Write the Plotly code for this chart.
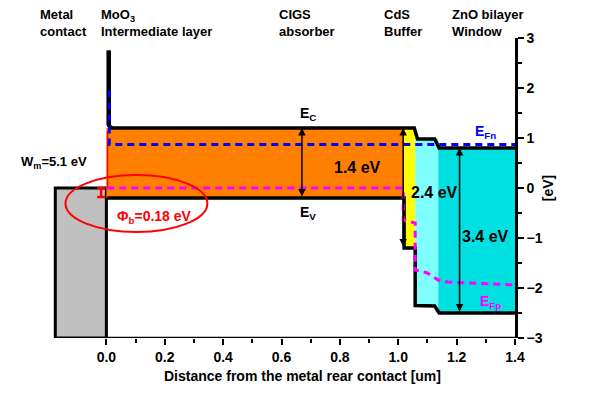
import plotly.graph_objects as go

# ---------------- data ----------------
# semiconductor layers (CIGS, CdS, i-ZnO, ZnO:Al)
layer_x0 = [0.0, 1.02, 1.058, 1.137]
layer_x1 = [1.02, 1.058, 1.137, 1.4]
layer_ec = [1.2, 1.2, 0.98, 0.8]
layer_ev = [-0.2, -1.2, -2.35, -2.5]
layer_colors = ["#FF8000", "#FFFF00", "#80FFFF", "#00E0E0"]

# metal contact
metal_x = [-0.175, 0.0]
metal_ef = 0.0
metal_bottom = -3.0

# conduction band edge (incl. MoO3 spike)
cb_x = [0.008, 0.008, 0.02, 1.055, 1.066, 1.125, 1.14, 1.4]
cb_y = [2.75, 1.25, 1.2, 1.2, 0.98, 0.98, 0.8, 0.8]
# valence band edge
vb_x = [0.003, 1.02, 1.02, 1.058, 1.058, 1.125, 1.14, 1.4]
vb_y = [-0.2, -0.2, -1.2, -1.2, -2.35, -2.36, -2.5, -2.5]

# quasi Fermi levels
efn_x = [0.01, 0.01, 0.03, 1.4]
efn_y = [1.95, 0.87, 0.87, 0.87]
efp_x = [0.003, 1.017, 1.017, 1.058, 1.058, 1.10, 1.137, 1.17, 1.4]
efp_y = [0.0, 0.0, -0.64, -0.7, -1.64, -1.7, -1.84, -1.88, -1.94]

# band gap arrows: x, bottom, top
gap_x = [0.67, 1.017, 1.21]
gap_lo = [-0.2, -1.2, -2.5]
gap_hi = [1.2, 1.2, 0.8]
gap_labels = ["1.4 eV", "2.4 eV", "3.4 eV"]
gap_label_x = [0.86, 1.125, 1.30]
gap_label_y = [0.42, -0.08, -0.96]

barrier = 0.18
x_ticks = [0.0, 0.2, 0.4, 0.6, 0.8, 1.0, 1.2, 1.4]
x_minor = [0.1, 0.3, 0.5, 0.7, 0.9, 1.1, 1.3]
y_ticks = [-3, -2, -1, 0, 1, 2, 3]

layer_titles = ["Metal<br>contact", "MoO<sub>3</sub><br>Intermediate layer",
                "CIGS<br>absorber", "CdS<br>Buffer", "ZnO bilayer<br>Window"]
layer_title_x = [-0.233, -0.024, 0.586, 0.945, 1.178]

X_RANGE = [-0.2, 1.4]
Y_RANGE = [-3, 3]


def paper_x(v):
    return (v - X_RANGE[0]) / (X_RANGE[1] - X_RANGE[0])


def paper_y(v):
    return (v - Y_RANGE[0]) / (Y_RANGE[1] - Y_RANGE[0])


# ---------------- figure ----------------
fig = go.Figure()

# metal box
fig.add_trace(go.Scatter(
    x=[metal_x[0], metal_x[1], metal_x[1], metal_x[0], metal_x[0]],
    y=[metal_bottom, metal_bottom, metal_ef, metal_ef, metal_bottom],
    fill="toself", fillcolor="#C0C0C0", mode="lines",
    line=dict(color="black", width=3), hoverinfo="skip"))

# layer fills
for x0, x1, ec, ev, c in zip(layer_x0, layer_x1, layer_ec, layer_ev, layer_colors):
    fig.add_trace(go.Scatter(
        x=[x0, x1, x1, x0, x0], y=[ev, ev, ec, ec, ev],
        fill="toself", fillcolor=c, mode="lines",
        line=dict(width=0, color=c), hoverinfo="skip"))

# red edge at contact
fig.add_trace(go.Scatter(x=[0.004, 0.004], y=[1.15, 0.0], mode="lines",
                         line=dict(color="red", width=1.5), hoverinfo="skip"))

# band edges
fig.add_trace(go.Scatter(x=cb_x[:2], y=cb_y[:2], mode="lines",
                         line=dict(color="black", width=4.5), hoverinfo="skip"))
fig.add_trace(go.Scatter(x=cb_x, y=cb_y, mode="lines",
                         line=dict(color="black", width=3.5), hoverinfo="skip"))
fig.add_trace(go.Scatter(x=vb_x, y=vb_y, mode="lines",
                         line=dict(color="black", width=3.5), hoverinfo="skip"))

# Fermi levels
fig.add_trace(go.Scatter(x=efn_x, y=efn_y, mode="lines",
                         line=dict(color="#0000FF", width=3, dash="7px,5px"), hoverinfo="skip"))
fig.add_trace(go.Scatter(x=efp_x, y=efp_y, mode="lines",
                         line=dict(color="#FF00FF", width=3, dash="7px,5px"), hoverinfo="skip"))

# barrier I-beam
fig.add_trace(go.Scatter(x=[-0.018], y=[-barrier / 2], mode="markers",
                         marker=dict(size=1, color="red", opacity=0),
                         error_y=dict(type="data", array=[barrier / 2], color="red",
                                      thickness=2.5, width=4),
                         hoverinfo="skip"))

annotations = []
for gx, lo, hi in zip(gap_x, gap_lo, gap_hi):
    annotations.append(dict(x=gx, y=hi, ax=gx, ay=lo, xref="x", yref="y",
                            axref="x", ayref="y", text="", showarrow=True,
                            arrowhead=2, arrowside="end+start", arrowsize=1,
                            arrowwidth=1.5, arrowcolor="black"))
for t, lx, ly in zip(gap_labels, gap_label_x, gap_label_y):
    annotations.append(dict(x=lx, y=ly, xref="x", yref="y", text=t, showarrow=False,
                            font=dict(size=16, color="black")))

annotations += [
    dict(x=0.69, y=1.48, xref="x", yref="y", text="E<sub>C</sub>", showarrow=False,
         font=dict(size=14)),
    dict(x=0.69, y=-0.5, xref="x", yref="y", text="E<sub>V</sub>", showarrow=False,
         font=dict(size=14)),
    dict(x=1.30, y=1.12, xref="x", yref="y", text="E<sub>Fn</sub>", showarrow=False,
         font=dict(size=14, color="#0000FF")),
    dict(x=1.315, y=-2.28, xref="x", yref="y", text="E<sub>Fp</sub>", showarrow=False,
         font=dict(size=14, color="#FF00FF")),
    dict(x=-0.18, y=0.52, xref="x", yref="y", text="W<sub>m</sub>=5.1 eV",
         showarrow=False, font=dict(size=13)),
    dict(x=0.165, y=-0.57, xref="x", yref="y", text="Φ<sub>b</sub>=0.18 eV",
         showarrow=False, font=dict(size=14, color="red")),
    dict(x=paper_x(1.514), y=paper_y(0.0), xref="paper", yref="paper", text="[eV]",
         xanchor="center", yanchor="middle",
         showarrow=False, textangle=-90, font=dict(size=14)),
    dict(x=paper_x(0.671), y=paper_y(-3.76), xref="paper", yref="paper",
         xanchor="center", yanchor="middle",
         text="Distance from the metal rear contact [um]",
         showarrow=False, font=dict(size=14)),
]
for t, lx in zip(layer_titles, layer_title_x):
    annotations.append(dict(x=paper_x(lx), y=paper_y(3.29), xref="paper", yref="paper",
                            text=t, showarrow=False, xanchor="left", yanchor="middle",
                            align="left", font=dict(size=13)))

fig.update_layout(
    width=600, height=409,
    margin=dict(l=40, r=93, t=30, b=79),
    plot_bgcolor="white", paper_bgcolor="white",
    showlegend=False,
    font=dict(family="Liberation Sans, Arial", size=14, color="black", weight="bold"),
    annotations=annotations,
    shapes=[
        dict(type="circle", xref="x", yref="y", x0=-0.14, x1=0.346, y0=-0.88, y1=0.26,
             line=dict(color="red", width=2)),
        dict(type="line", xref="x", yref="y", x0=0.0, x1=1.4, y0=-3, y1=-3,
             line=dict(color="black", width=2.5)),
    ],
)
fig.update_xaxes(range=X_RANGE, showgrid=False, zeroline=False, showline=False,
                 tickmode="array", tickvals=x_ticks,
                 ticktext=[f"{v:.1f}" for v in x_ticks],
                 ticks="outside", ticklen=6, tickwidth=2, tickcolor="black",
                 minor=dict(tickmode="array", tickvals=x_minor, ticks="outside",
                            ticklen=4, tickwidth=2, tickcolor="black"),
                 tickfont=dict(size=14))
fig.update_yaxes(range=Y_RANGE, side="right", showgrid=False, zeroline=False,
                 showline=True, linecolor="black", linewidth=2.5, mirror=False,
                 tickmode="array", tickvals=y_ticks,
                 ticks="outside", ticklen=6, tickwidth=2, tickcolor="black",
                 minor=dict(dtick=0.5, ticks="outside", ticklen=4, tickwidth=2,
                            tickcolor="black"),
                 tickfont=dict(size=14))

fig.write_html("out.html")
